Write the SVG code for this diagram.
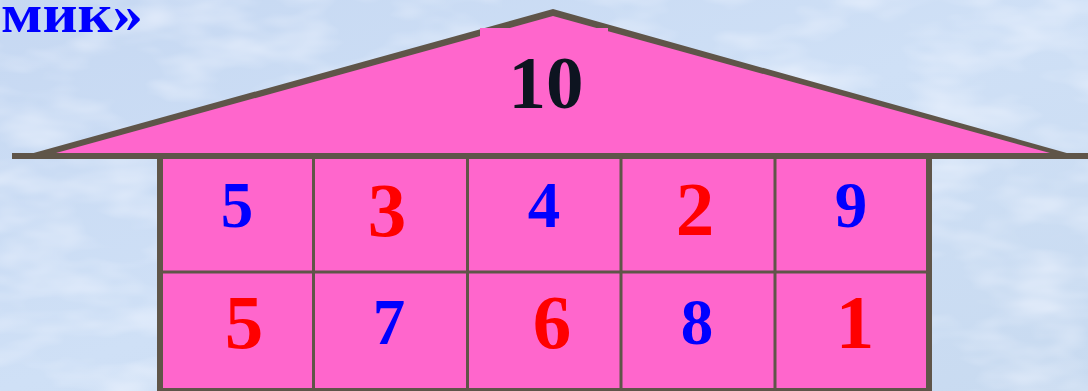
<svg xmlns="http://www.w3.org/2000/svg" width="1088" height="391" viewBox="0 0 1088 391">
  <defs>
    <linearGradient id="bg" x1="0" y1="0" x2="1" y2="1">
      <stop offset="0" stop-color="#c6d8f2"/>
      <stop offset="0.5" stop-color="#cfe0f6"/>
      <stop offset="1" stop-color="#c8daf0"/>
    </linearGradient>
    <filter id="clouds" x="0" y="0" width="100%" height="100%">
      <feTurbulence type="fractalNoise" baseFrequency="0.012 0.03" numOctaves="3" seed="4"/>
      <feColorMatrix type="matrix" values="0 0 0 0 0.88  0 0 0 0 0.92  0 0 0 0 1  0 0 0 1.3 -0.55"/>
    </filter>
    <style>
      .wall { fill: #ff66cc; }
      .line { stroke: #5f5549; fill: none; }
      .num { font-family: "Liberation Serif", "Times New Roman", serif; font-weight: bold; text-anchor: middle; }
      .red { fill: #ff0000; font-size: 77px; }
      .blue { fill: #0000ff; font-size: 65px; }
    </style>
  </defs>

  <rect width="1088" height="391" fill="url(#bg)"/>
  <rect width="1088" height="391" filter="url(#clouds)"/>

  <text x="1" y="32" font-family="Liberation Serif, serif" font-weight="bold" font-size="54" fill="#0000ff" textLength="142" lengthAdjust="spacingAndGlyphs">мик»</text>

  <g id="roof">
    <polygon points="12,159 553,9 1088,159" fill="#5f5549"/>
    <polygon points="56,153 553,16 1050,153" fill="#ff66cc"/>
    <rect x="480" y="28" width="128" height="10" fill="#ff66cc"/>
    <text id="roof-label" class="num" x="546" y="108" font-size="75" fill="#0d1420">10</text>
  </g>

  <g id="body">
    <rect class="wall" x="160" y="156" width="769" height="240"/>
  </g>

  <g id="grid">
    <line class="line" x1="12" y1="156" x2="1088" y2="156" stroke-width="6"/>
    <line class="line" x1="160" y1="156" x2="160" y2="391" stroke-width="6"/>
    <line class="line" x1="929" y1="156" x2="929" y2="391" stroke-width="6"/>
    <line class="line" x1="160" y1="390" x2="929" y2="390" stroke-width="4"/>
    <line class="line" x1="160" y1="272" x2="929" y2="272" stroke-width="3"/>
    <line class="line" x1="313.5" y1="156" x2="313.5" y2="391" stroke-width="3"/>
    <line class="line" x1="467.5" y1="156" x2="467.5" y2="391" stroke-width="3"/>
    <line class="line" x1="621" y1="156" x2="621" y2="391" stroke-width="3"/>
    <line class="line" x1="775" y1="156" x2="775" y2="391" stroke-width="3"/>
  </g>

  <g id="cell-1-1"><text class="num blue" x="237" y="227">5</text></g>
  <g id="cell-1-2"><text class="num red" x="387" y="236">3</text></g>
  <g id="cell-1-3"><text class="num blue" x="544" y="227">4</text></g>
  <g id="cell-1-4"><text class="num red" x="695" y="235">2</text></g>
  <g id="cell-1-5"><text class="num blue" x="851" y="227">9</text></g>

  <g id="cell-2-1"><text class="num red" x="244" y="348">5</text></g>
  <g id="cell-2-2"><text class="num blue" x="389" y="344">7</text></g>
  <g id="cell-2-3"><text class="num red" x="552" y="348">6</text></g>
  <g id="cell-2-4"><text class="num blue" x="697" y="344">8</text></g>
  <g id="cell-2-5"><text class="num red" x="855" y="348">1</text></g>
</svg>
